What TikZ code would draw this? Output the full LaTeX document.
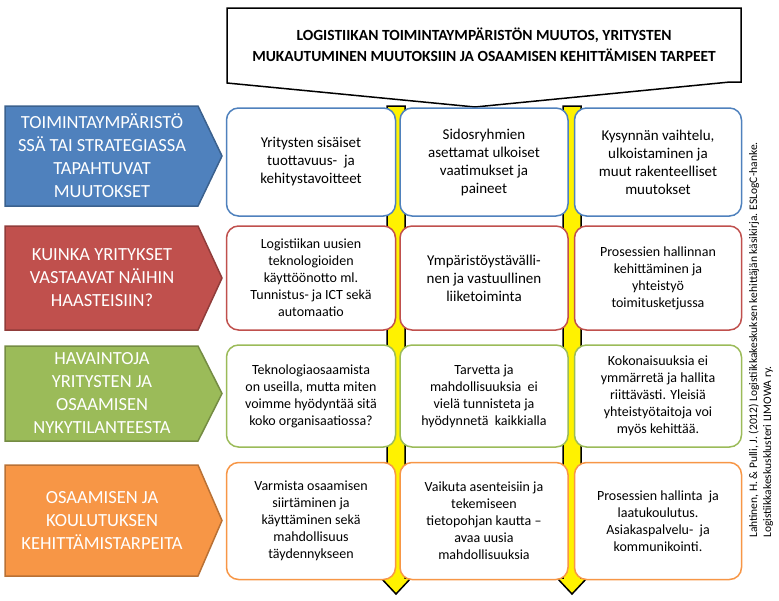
\documentclass[tikz,border=0pt]{standalone}
\usepackage{fontspec}
\setmainfont{Carlito}
\usetikzlibrary{shapes.symbols}
\definecolor{cblue}{HTML}{4F81BD}
\definecolor{cred}{HTML}{C0504D}
\definecolor{cgreen}{HTML}{9BBB59}
\definecolor{corange}{HTML}{F79646}

\begin{document}
\begin{tikzpicture}[x=1pt,y=-1pt]
    \tikzstyle{head}=[fill=#1,draw=#1!75!black,line width=1.5pt]
    \tikzstyle{item}=[draw=#1,line width=1.5pt,fill=white,rounded corners=12pt,
      align=center,font=\fontsize{15}{18}\selectfont]
    \tikzstyle{flow}=[fill=yellow,draw=black,line width=1.5pt]
    \useasboundingbox (0,0) rectangle (779,600);
    % callout on top
    \draw[line width=1.5pt,fill=white] (227,8) -- (741,8) -- (741,82) -- (730,82)
      -- (475,107) -- (227,83) -- cycle;
    \node[font=\bfseries\fontsize{15.5}{21}\selectfont,align=center] (title) at (484,45)
      {LOGISTIIKAN TOIMINTAYMPÄRISTÖN MUUTOS, YRITYSTEN\\
       MUKAUTUMINEN MUUTOKSIIN JA OSAAMISEN KEHITTÄMISEN TARPEET};
    % yellow arrows
    \foreach \x in {396,572} {
      \draw[flow] (\x-9,106) -- (\x+9,106) -- (\x+9,578) -- (\x+15,578)
        -- (\x,594) -- (\x-15,578) -- (\x-9,578) -- cycle;
    }
    % rows
    \foreach \c/\ya/\yb/\t in {cblue/106/206/{TOIMINTAYMPÄRISTÖ\\SSÄ TAI STRATEGIASSA\\TAPAHTUVAT\\MUUTOKSET},
      cred/226/330/{KUINKA YRITYKSET\\VASTAAVAT NÄIHIN\\HAASTEISIIN?},
      cgreen/346/441/{HAVAINTOJA\\YRITYSTEN JA\\OSAAMISEN\\NYKYTILANTEESTA},
      corange/465/576/{OSAAMISEN JA\\KOULUTUKSEN\\KEHITTÄMISTARPEITA}} {
      \draw[head=\c] (5,\ya) -- (198,\ya) -- (222,{(\ya+\yb)/2}) -- (198,\yb)
        -- (5,\yb) -- cycle;
      \node[text=white,font=\fontsize{18.5}{23}\selectfont,align=center]
        at (102,{(\ya+\yb)/2}) {\t};
    }
    \node[item=cblue,minimum width=169pt,minimum height=108pt] (b11) at (311,162)
      {Yritysten sisäiset\\tuottavuus- \ ja\\kehitystavoitteet};
    \node[item=cblue,minimum width=168pt,minimum height=108pt] (b12) at (484,162)
      {Sidosryhmien\\asettamat ulkoiset\\vaatimukset ja\\paineet};
    \node[item=cblue,minimum width=167pt,minimum height=108pt] (b13) at (658,162)
      {Kysynnän vaihtelu,\\ulkoistaminen ja\\muut rakenteelliset\\muutokset};
    \node[item=cred,minimum width=169pt,minimum height=104pt,font=\fontsize{14}{17}\selectfont] (b21) at (311,278)
      {Logistiikan uusien\\teknologioiden\\käyttöönotto ml.\\Tunnistus- ja ICT sekä\\automaatio};
    \node[item=cred,minimum width=168pt,minimum height=104pt] (b22) at (484,278)
      {Ympäristöystävälli-\\nen ja vastuullinen\\liiketoiminta};
    \node[item=cred,minimum width=167pt,minimum height=104pt,font=\fontsize{14}{17}\selectfont] (b23) at (658,278)
      {Prosessien hallinnan\\kehittäminen ja\\yhteistyö\\toimitusketjussa};
    \node[item=cgreen,minimum width=169pt,minimum height=102pt,font=\fontsize{14}{17}\selectfont] (b31) at (311,396)
      {Teknologiaosaamista\\on useilla, mutta miten\\voimme hyödyntää sitä\\koko organisaatiossa?};
    \node[item=cgreen,minimum width=168pt,minimum height=102pt,font=\fontsize{14}{17}\selectfont] (b32) at (484,396)
      {Tarvetta ja\\mahdollisuuksia \ ei\\vielä tunnisteta ja\\hyödynnetä \ kaikkialla};
    \node[item=cgreen,minimum width=167pt,minimum height=102pt,font=\fontsize{14}{17}\selectfont] (b33) at (658,396)
      {Kokonaisuuksia ei\\ymmärretä ja hallita\\riittävästi. Yleisiä\\yhteistyötaitoja voi\\myös kehittää.};
    \node[item=corange,minimum width=169pt,minimum height=117pt,font=\fontsize{14}{17}\selectfont] (b41) at (311,521)
      {Varmista osaamisen\\siirtäminen ja\\käyttäminen sekä\\mahdollisuus\\täydennykseen};
    \node[item=corange,minimum width=168pt,minimum height=117pt,font=\fontsize{14}{17}\selectfont] (b42) at (484,521)
      {Vaikuta asenteisiin ja\\tekemiseen\\tietopohjan kautta --\\avaa uusia\\mahdollisuuksia};
    \node[item=corange,minimum width=167pt,minimum height=117pt,font=\fontsize{14}{17}\selectfont] (b43) at (658,521)
      {Prosessien hallinta \ ja\\laatukoulutus.\\Asiakaspalvelu- \ ja\\kommunikointi.};
    % source
    \node[rotate=90,font=\fontsize{11.5}{14}\selectfont,align=left] (src) at (761,340)
      {Lahtinen, H. \& Pulli, J. (2012) Logistiikkakeskuksen kehittäjän käsikirja. ESLogC-hanke.\\
       Logistiikkakeskusklusteri LIMOWA ry.};
\end{tikzpicture}
\end{document}
